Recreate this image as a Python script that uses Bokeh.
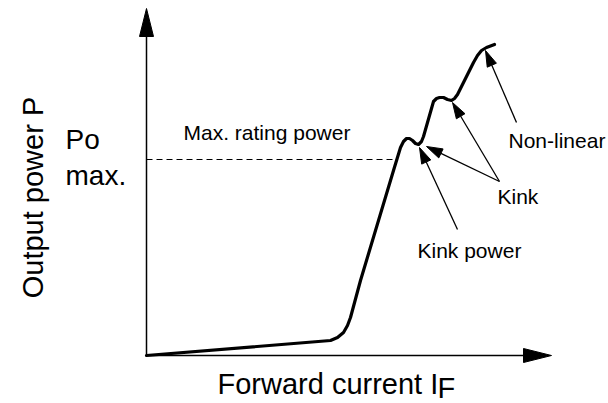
import numpy as np
from bokeh.plotting import figure
from bokeh.models import Range1d
from bokeh.core.properties import value
from bokeh.embed import file_html
from bokeh.resources import INLINE

# L-I characteristic (schematic), units: current (x) and output power (y)
current = [0, 184, 191, 197, 201, 204, 214, 247, 254, 257, 260, 263, 266, 269, 272,
           275, 277, 287, 290, 293, 297, 301, 305, 308, 311, 327, 331, 335, 340, 348]
power = [0, 15, 18, 23, 30, 38, 75, 185, 208, 214, 217, 217, 215, 212, 211,
         214, 219, 254, 257, 258, 258, 256, 255, 257, 261, 293, 300, 305, 308, 311]

# axis extents
x_axis_end = 405
y_axis_end = 347

# maximum rating power level
po_max = 196
po_max_current = 249

# annotation arrows: (tail, tip)
arrow_tail_x = [311, 353, 353, 370]
arrow_tail_y = [126, 174, 174, 233]
arrow_tip_x = [273, 280, 306, 339]
arrow_tip_y = [208, 209, 253, 305]

labels = ["Max. rating power", "Kink", "Kink power", "Non-linear"]
label_x = [37, 351, 271, 362]
label_y = [223, 159, 105, 215]

FONT = "Liberation Sans"


def head(tail, tip, length, half):
    tail = np.asarray(tail, float)
    tip = np.asarray(tip, float)
    d = tip - tail
    d = d / np.hypot(*d)
    n = np.array([-d[1], d[0]])
    base = tip - d * length
    pts = [tip, base + n * half, base - n * half]
    return [p[0] for p in pts], [p[1] for p in pts], base


p = figure(width=608, height=403, x_range=Range1d(-146, 462), y_range=Range1d(-48, 355),
           output_backend="svg", toolbar_location=None, min_border=0,
           x_axis_location=None, y_axis_location=None)
p.grid.visible = False
p.outline_line_color = None
p.background_fill_color = "white"
p.border_fill_color = "white"

# axes with arrowheads
hx, hy, base = head((0, 0), (0, y_axis_end), 28, 7)
p.line([0, 0], [0, base[1]], line_color="black", line_width=1.5)
p.patch(hx, hy, fill_color="black", line_color="black", line_width=1)
hx, hy, base = head((0, 0), (x_axis_end, 0), 28, 7)
p.line([0, base[0]], [0, 0], line_color="black", line_width=1.5)
p.patch(hx, hy, fill_color="black", line_color="black", line_width=1)

# dashed max-rating line
p.line([0, po_max_current], [po_max, po_max], line_color="black", line_width=1,
       line_dash="6 4")

# characteristic curve
p.line(current, power, line_color="black", line_width=3.2, line_join="round",
       line_cap="round")

# annotation arrows
for tx, ty, px_, py_ in zip(arrow_tail_x, arrow_tail_y, arrow_tip_x, arrow_tip_y):
    hx, hy, base = head((tx, ty), (px_, py_), 16, 5)
    p.line([tx, base[0]], [ty, base[1]], line_color="black", line_width=1.3)
    p.patch(hx, hy, fill_color="black", line_color="black", line_width=1)

# annotation labels
p.text(x=label_x, y=label_y, text=labels, text_font=value(FONT),
       text_font_size="21px", text_color="black", text_align="left",
       text_baseline="alphabetic")

# Po max.
p.text(x=[-81, -81], y=[216, 180], text=["Po", "max."], text_font=value(FONT),
       text_font_size="28px", text_color="black", text_baseline="alphabetic")

# axis titles
p.text(x=[-114], y=[158], text=["Output power P"], text_font=value(FONT),
       text_font_size="29px", text_color="black", angle=np.pi / 2,
       text_align="center", text_baseline="alphabetic")
p.text(x=[71], y=[-28], text=["Forward current I"], text_font=value(FONT),
       text_font_size="29px", text_color="black", text_baseline="alphabetic")
p.text(x=[291], y=[-32], text=["F"], text_font=value(FONT),
       text_font_size="29px", text_color="black", text_baseline="alphabetic")

open("out.html", "w").write(file_html(p, INLINE))
